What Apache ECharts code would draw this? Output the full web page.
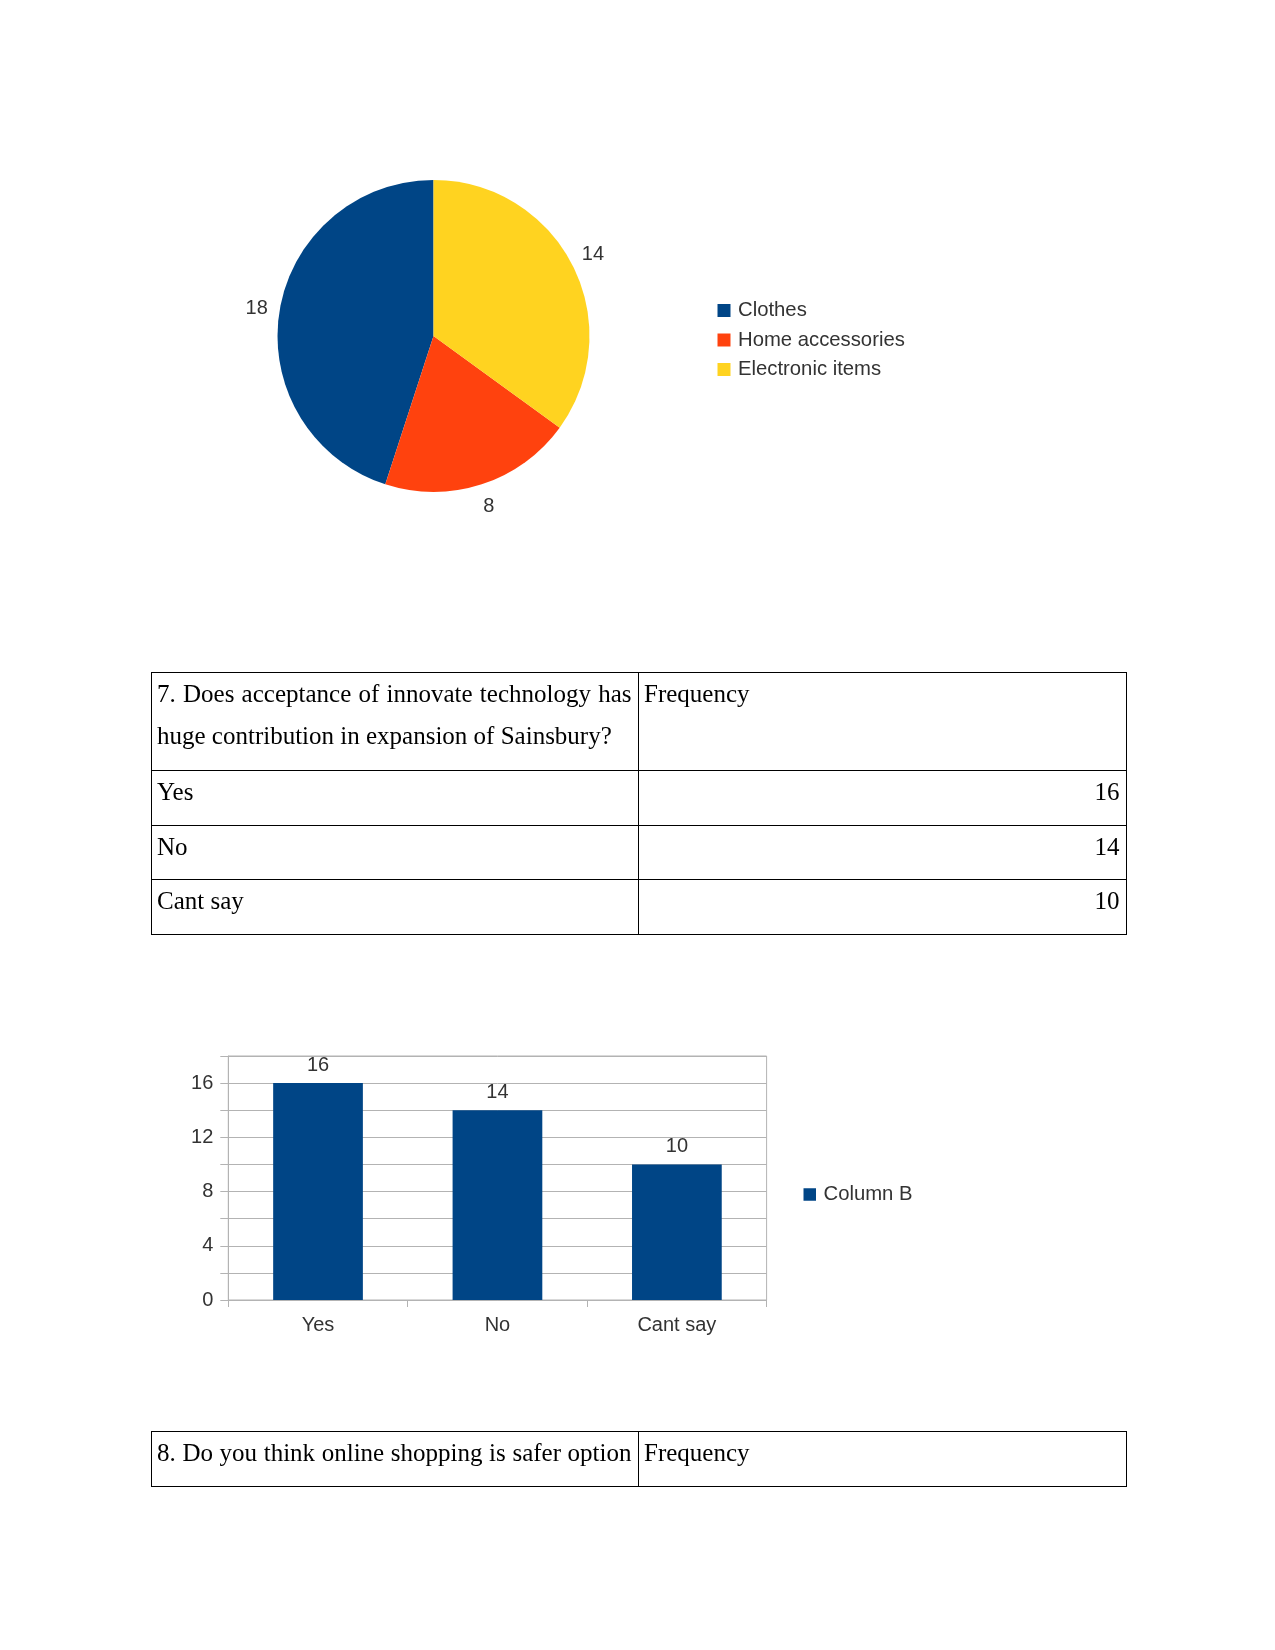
<!DOCTYPE html>
<html>
<head>
<meta charset="utf-8">
<script src="https://cdn.jsdelivr.net/npm/echarts@6/dist/echarts.min.js"></script>
<style>
  html, body { margin: 0; padding: 0; background: #fff; }
  #page { position: relative; width: 1275px; height: 1650px; overflow: hidden; }
  #chart { position: absolute; left: 0; top: 0; width: 1275px; height: 1650px; }
  table.doc {
    position: absolute; left: 150.5px; width: 975px;
    border-collapse: collapse; table-layout: fixed;
    font-family: "Liberation Serif", "Times New Roman", serif;
    font-size: 25px; color: #000; z-index: 2;
  }
  table.doc td {
    border: 1px solid #000; vertical-align: top;
    padding: 0 6px 0 5.5px; line-height: 41.5px; overflow: hidden;
  }
  table.doc td.num { text-align: right; }
  .just { text-align: justify; text-align-last: justify; white-space: nowrap; }
</style>
</head>
<body>
<div id="page">
  <div id="chart"></div>
  <table class="doc" id="t7" style="top:672px;"></table>
  <table class="doc" id="t8" style="top:1431px;"></table>
</div>
<script>
// ---- Data ----
const pieNames = ['Clothes', 'Home accessories', 'Electronic items'];
const pieValues = [18, 8, 14];

const barCategories = ['Yes', 'No', 'Cant say'];
const barValues = [16, 14, 10];
const barSeriesName = 'Column B';
const yAxisMin = 0;
const yAxisMax = 18;
const yAxisStep = 2;
const yLabelStep = 4;

const q7Lines = ['7. Does acceptance of innovate technology has', 'huge contribution in expansion of Sainsbury?'];
const q7Header = 'Frequency';
const q7Answers = ['Yes', 'No', 'Cant say'];
const q7Counts = [16, 14, 10];
const q8Question = '8. Do you think online shopping is safer option';
const q8Header = 'Frequency';

// ---- Tables ----
(function buildTables() {
  const t7 = document.getElementById('t7');
  const rowH = [98, 55, 53.5, 55];
  let html = '<colgroup><col style="width:487px"><col style="width:488px"></colgroup>';
  html += '<tr style="height:' + rowH[0] + 'px"><td><div class="just">' + q7Lines[0] + '</div><div>' + q7Lines[1] + '</div></td><td>' + q7Header + '</td></tr>';
  q7Answers.forEach(function (a, i) {
    html += '<tr style="height:' + rowH[i + 1] + 'px"><td>' + a + '</td><td class="num">' + q7Counts[i] + '</td></tr>';
  });
  t7.innerHTML = html;
  const t8 = document.getElementById('t8');
  t8.innerHTML = '<colgroup><col style="width:487px"><col style="width:488px"></colgroup>' +
    '<tr style="height:55px"><td><div class="just">' + q8Question + '</div></td><td>' + q8Header + '</td></tr>';
})();

// ---- Chart ----
const chart = echarts.init(document.getElementById('chart'), null, { renderer: 'canvas' });
const textColor = '#333333';
const gridColor = '#b3b3b3';
const pieData = pieNames.map(function (n, i) { return { name: n, value: pieValues[i] }; });
const legendText = {
  fontFamily: 'Liberation Sans', fontSize: 20.3, lineHeight: 20, color: textColor,
  padding: [0, 0, 0, 2.5]
};

const option = {
  animation: false,
  backgroundColor: '#ffffff',
  color: ['#004586', '#ff420e', '#ffd320'],
  legend: [
    {
      data: pieNames,
      orient: 'vertical',
      left: 712.5, top: 295.5, padding: 5,
      icon: 'rect', itemWidth: 13, itemHeight: 13, itemGap: 9.5,
      textStyle: legendText,
      selectedMode: false
    },
    {
      data: [barSeriesName],
      orient: 'vertical',
      left: 798.5, top: 1179.5, padding: 5,
      icon: 'rect', itemWidth: 12.5, itemHeight: 12.5,
      textStyle: legendText,
      selectedMode: false
    }
  ],
  grid: {
    left: 228.3, top: 1056, width: 538.3, height: 244,
    show: true, borderColor: gridColor, borderWidth: 1, backgroundColor: 'transparent'
  },
  xAxis: {
    type: 'category', data: barCategories, boundaryGap: true,
    axisLine: { show: true, lineStyle: { color: gridColor, width: 1 } },
    axisTick: { show: true, alignWithLabel: false, length: 7, lineStyle: { color: gridColor } },
    axisLabel: { fontFamily: 'Liberation Sans', fontSize: 20, color: textColor, margin: 15 },
    splitLine: { show: false }
  },
  yAxis: {
    type: 'value', min: yAxisMin, max: yAxisMax, interval: yAxisStep,
    axisLine: { show: true, lineStyle: { color: gridColor, width: 1 } },
    axisTick: { show: true, length: 8, inside: false, lineStyle: { color: gridColor } },
    splitLine: { show: true, lineStyle: { color: gridColor, width: 1 } },
    axisLabel: {
      fontFamily: 'Liberation Sans', fontSize: 20, color: textColor, margin: 15,
      formatter: function (v) { return (v % yLabelStep === 0 && v < yAxisMax) ? String(v) : ''; }
    }
  },
  series: [
    {
      type: 'pie', name: 'pie',
      center: [433.5, 336], radius: 156,
      startAngle: 90, clockwise: false,
      label: { show: false }, labelLine: { show: false },
      emphasis: { disabled: true },
      data: pieData
    },
    {
      type: 'pie', name: 'pieLabels', silent: true,
      center: [433.5, 336], radius: [159, 193],
      startAngle: 90, clockwise: false,
      legendHoverLink: false,
      itemStyle: { color: 'rgba(0,0,0,0)' },
      label: {
        show: true, position: 'inside', formatter: '{c}',
        fontFamily: 'Liberation Sans', fontSize: 20, color: textColor
      },
      labelLine: { show: false },
      emphasis: { disabled: true },
      data: pieData
    },
    {
      type: 'bar', name: barSeriesName,
      data: barValues, barWidth: '50%',
      itemStyle: { color: '#004586' },
      label: {
        show: true, position: 'top', distance: 7.5,
        fontFamily: 'Liberation Sans', fontSize: 20, color: textColor
      }
    }
  ]
};
chart.setOption(option);
</script>
</body>
</html>
